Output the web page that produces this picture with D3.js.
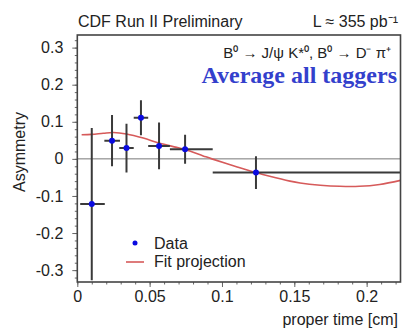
<!DOCTYPE html>
<html><head><meta charset="utf-8">
<script src="https://cdn.jsdelivr.net/npm/d3@7"></script>
<style>body{margin:0;background:#fff}text{font-family:"Liberation Sans",Arial,sans-serif}</style>
</head><body><div id="c"></div>
<script>
// Data points
const dataX   = [0.0100, 0.0240, 0.0340, 0.0440, 0.0565, 0.0745, 0.1235];
const dataY   = [-0.122, 0.049, 0.029, 0.111, 0.035, 0.026, -0.037];
const dataErr = [0.205, 0.069, 0.066, 0.047, 0.063, 0.039, 0.044];
const binLo   = [0.0020, 0.0187, 0.0290, 0.0390, 0.0490, 0.0640, 0.0936];
const binHi   = [0.0190, 0.0295, 0.0390, 0.0490, 0.0640, 0.0936, 0.2300];
// Fit projection
const fitX = [0.003, 0.010, 0.018, 0.025, 0.034, 0.0456, 0.057, 0.0687, 0.0744, 0.087, 0.093, 0.110, 0.1235, 0.133, 0.147, 0.154, 0.168, 0.1815, 0.195, 0.209, 0.2234];
const fitY = [0.065, 0.066, 0.069, 0.071, 0.067, 0.056, 0.042, 0.031, 0.025, 0.008, 0.000, -0.021, -0.037, -0.047, -0.060, -0.065, -0.071, -0.074, -0.074, -0.069, -0.058];
const yTicks = [-0.3, -0.2, -0.1, 0, 0.1, 0.2, 0.3];
const xTicks = [0, 0.05, 0.1, 0.15, 0.2];
const yTickLabels = ["-0.3", "-0.2", "-0.1", "0", "0.1", "0.2", "0.3"];
const xTickLabels = ["0", "0.05", "0.1", "0.15", "0.2"];

const W = 403, H = 329;
const svg = d3.select("#c").append("svg").attr("width", W).attr("height", H);
svg.append("rect").attr("width", W).attr("height", H).attr("fill", "#fff");

const x = d3.scaleLinear().domain([0, 0.2234]).range([77.3, 400.5]);
const y = d3.scaleLinear().domain([-0.332, 0.334]).range([282, 35]);
const frameCol = "#444";

svg.append("defs").append("clipPath").attr("id", "clip").append("rect")
  .attr("x", x.range()[0]).attr("y", y.range()[1])
  .attr("width", x.range()[1] - x.range()[0]).attr("height", y.range()[0] - y.range()[1]);

// axes
const yMinor = d3.range(-0.32, 0.335, 0.02).filter(v => v >= -0.332 && v <= 0.334);
const xMinor = d3.range(0, 0.224, 0.01);
const gy = svg.append("g").attr("transform", `translate(${x.range()[0]},0)`);
gy.call(d3.axisLeft(y).tickValues(yMinor).tickSize(2.5).tickFormat(""));
gy.call(g => g.select(".domain").remove());
const gy2 = svg.append("g").attr("transform", `translate(${x.range()[0]},0)`);
gy2.call(d3.axisLeft(y).tickValues(yTicks).tickSize(5).tickPadding(9).tickFormat((d, i) => yTickLabels[i]));
gy2.call(g => g.select(".domain").remove());
const gx = svg.append("g").attr("transform", `translate(0,${y.range()[0]})`);
gx.call(d3.axisBottom(x).tickValues(xMinor).tickSize(2.5).tickFormat(""));
gx.call(g => g.select(".domain").remove());
const gx2 = svg.append("g").attr("transform", `translate(0,${y.range()[0]})`);
gx2.call(d3.axisBottom(x).tickValues(xTicks).tickSize(5).tickPadding(4).tickFormat((d, i) => xTickLabels[i]));
gx2.call(g => g.select(".domain").remove());
svg.selectAll(".tick line").attr("stroke", "#666");
svg.selectAll(".tick text").attr("font-size", 16).attr("fill", "#222").attr("font-family", "Liberation Sans, Arial, sans-serif");

// zero line
svg.append("line").attr("x1", x.range()[0]).attr("x2", x.range()[1])
  .attr("y1", y(0)).attr("y2", y(0)).attr("stroke", "#777").attr("stroke-width", 1);

const plot = svg.append("g").attr("clip-path", "url(#clip)");

// fit curve
const line = d3.line().x(d => x(d[0])).y(d => y(d[1])).curve(d3.curveCatmullRom);
plot.append("path").datum(fitX.map((v, i) => [v, fitY[i]]))
  .attr("d", line).attr("fill", "none").attr("stroke", "#d65a5a").attr("stroke-width", 1.6);

// error bars
const pts = dataX.map((v, i) => ({x: v, y: dataY[i], e: dataErr[i], lo: binLo[i], hi: binHi[i]}));
plot.selectAll(".eh").data(pts).enter().append("line")
  .attr("x1", d => x(d.lo)).attr("x2", d => x(d.hi))
  .attr("y1", d => y(d.y)).attr("y2", d => y(d.y))
  .attr("stroke", "#3a3a3a").attr("stroke-width", 2);
plot.selectAll(".ev").data(pts).enter().append("line")
  .attr("x1", d => x(d.x)).attr("x2", d => x(d.x))
  .attr("y1", d => y(d.y + d.e)).attr("y2", d => y(d.y - d.e))
  .attr("stroke", "#3a3a3a").attr("stroke-width", 2);
plot.selectAll(".dot").data(pts).enter().append("circle")
  .attr("cx", d => x(d.x)).attr("cy", d => y(d.y)).attr("r", 3)
  .attr("fill", "#0a0ae0");

// frame
svg.append("rect").attr("x", x.range()[0]).attr("y", y.range()[1])
  .attr("width", x.range()[1] - x.range()[0]).attr("height", y.range()[0] - y.range()[1])
  .attr("fill", "none").attr("stroke", frameCol).attr("stroke-width", 1.6);

// texts
svg.append("text").attr("x", 78).attr("y", 27).attr("font-size", 16).attr("fill", "#222")
  .text("CDF Run II Preliminary");
svg.append("text").attr("x", 398).attr("y", 27).attr("font-size", 16).attr("fill", "#222").attr("text-anchor", "end")
  .text("L \u2248 355 pb\u207B\u00B9");

svg.append("text").attr("x", 391).attr("y", 58).attr("font-size", 15).attr("fill", "#222").attr("text-anchor", "end")
  .text("B\u2070 \u2192 J/\u03c8 K*\u2070, B\u2070 \u2192 D\u207B \u03c0\u207A");

svg.append("text").attr("x", 397).attr("y", 83).attr("font-size", 24).attr("font-weight", "bold")
  .attr("fill", "#3340cc").attr("text-anchor", "end")
  .style("font-family", "'Liberation Serif', 'Times New Roman', serif").text("Average all taggers");

svg.append("text").attr("transform", "translate(25,152) rotate(-90)").attr("text-anchor", "middle")
  .attr("font-size", 16).attr("fill", "#222").text("Asymmetry");
svg.append("text").attr("x", 398).attr("y", 325).attr("text-anchor", "end")
  .attr("font-size", 16).attr("fill", "#222").text("proper time [cm]");

// legend
svg.append("circle").attr("cx", 135).attr("cy", 243).attr("r", 2.5).attr("fill", "#0a0ae0");
svg.append("text").attr("x", 154).attr("y", 249).attr("font-size", 16).attr("fill", "#222").text("Data");
svg.append("line").attr("x1", 126).attr("x2", 144).attr("y1", 262).attr("y2", 262)
  .attr("stroke", "#d65a5a").attr("stroke-width", 1.6);
svg.append("text").attr("x", 154).attr("y", 267).attr("font-size", 16).attr("fill", "#222").text("Fit projection");
</script></body></html>
